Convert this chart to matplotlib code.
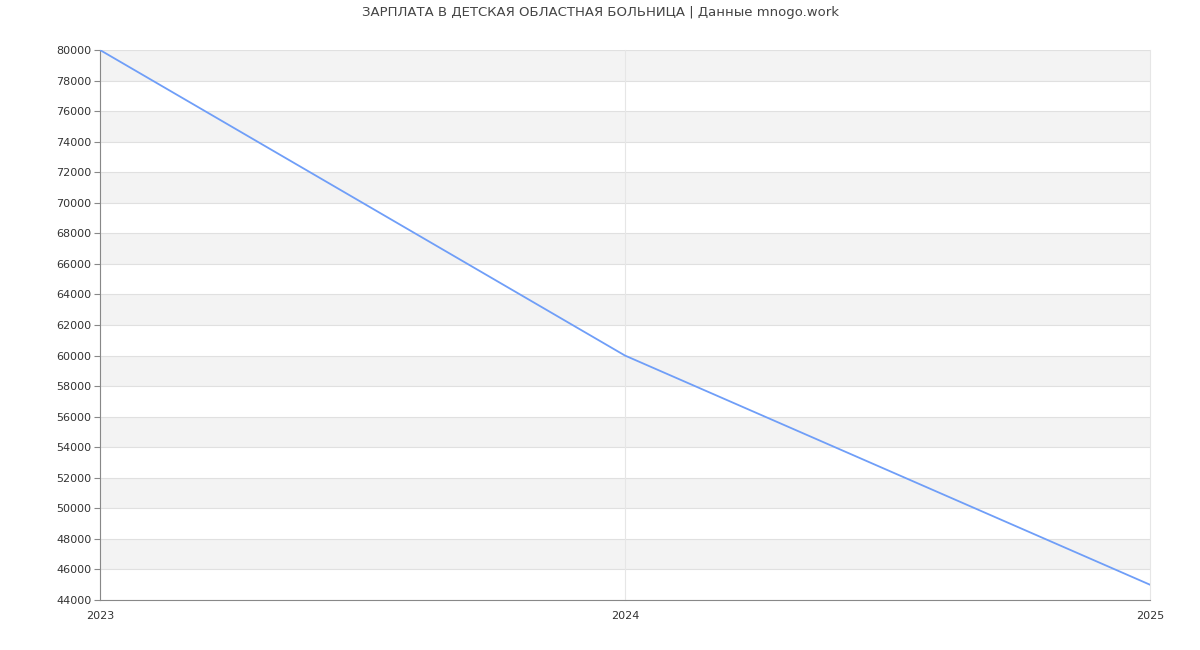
import numpy as np
import matplotlib
matplotlib.use('Agg')
import matplotlib.pyplot as plt

years = [2023, 2024, 2025]
salary = [80000, 60000, 45000]
yticks = list(range(44000, 80001, 2000))
title = 'ЗАРПЛАТА В ДЕТСКАЯ ОБЛАСТНАЯ БОЛЬНИЦА | Данные mnogo.work'

plt.rcParams['font.family'] = ['DejaVu Sans']

fig = plt.figure(figsize=(12, 6.5), dpi=100)
ax = fig.add_axes([100/1200, 50/650, 1050/1200, 550/650])

# alternating bands
for lo in range(46000, 80000, 4000):
    ax.axhspan(lo, lo + 2000, color='#f3f3f3', zorder=0, lw=0)

for y in yticks:
    ax.axhline(y, color='#e0e0e0', lw=0.8, zorder=1)
for x in years:
    ax.axvline(x, color='#e6e6e6', lw=0.8, zorder=1, clip_on=False)

ax.plot(years, salary, color='#6f9ef8', lw=1.3, zorder=3)

ax.set_xlim(2023, 2025)
ax.set_ylim(44000, 80000)
ax.set_yticks(yticks)
ax.set_xticks(years)
ax.tick_params(axis='y', labelsize=8, colors='#333333', length=4, width=0.8, pad=2)
ax.tick_params(axis='x', labelsize=8, colors='#333333', length=0, pad=8)
for lab in ax.get_xticklabels():
    lab.set_x(lab.get_position()[0])
ax.tick_params(axis='y', color='#888888')

for s in ['top', 'right']:
    ax.spines[s].set_visible(False)
for s in ['left', 'bottom']:
    ax.spines[s].set_color('#888888')
    ax.spines[s].set_linewidth(0.8)

fig.text(0.5, 1 - 12.5/650, title, ha='center', va='center', fontsize=9.5, color='#444444')

fig.savefig('out.png', dpi=100)
